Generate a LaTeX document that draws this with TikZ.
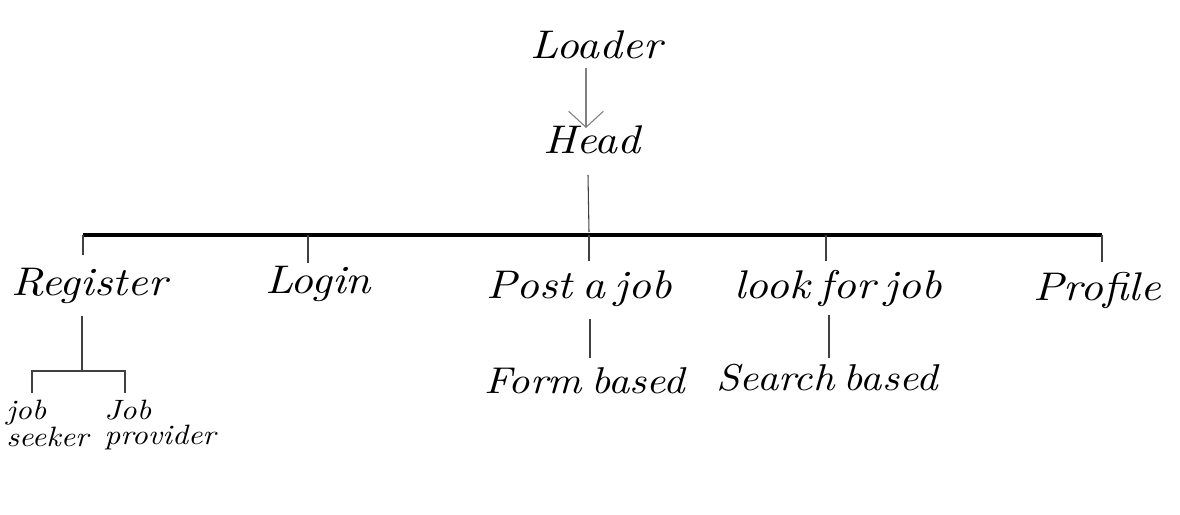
\documentclass[tikz,border=0pt]{standalone}
\usepackage{fontspec}
\newfontfamily\hand{lmroman10-italic.otf}[FakeStretch=1.12,WordSpace=0.6]
\usetikzlibrary{arrows.meta,calc}
\begin{document}
\begin{tikzpicture}[x=0.75pt,y=-0.75pt,
 lbl/.style={font=\hand\fontsize{30}{34}\selectfont, inner sep=0pt, anchor=base},
 sub/.style={font=\hand\fontsize{28}{32}\selectfont, inner sep=0pt, anchor=base},
 small/.style={font=\hand\fontsize{21}{18.5}\selectfont, inner sep=0pt, align=left, anchor=north west},
 thin/.style={draw=black!75, line width=0.8pt},
 bar/.style={line width=2.6pt, draw=black}]
\useasboundingbox (0,0) rectangle (1180,514);
\node[lbl] (loader) at (596,58) {Loader};
\node[lbl] (head) at (592,153) {Head};
\node[lbl] (reg) at (89,295) {Register};
\node[lbl] (login) at (318,293) {Login};
\node[lbl] (post) at (579,298) {Post a job};
\node[lbl] (look) at (838,298) {look for job};
\node[lbl] (prof) at (1097,300) {Profile};
\node[sub] (form) at (585,393) {Form based};
\node[sub] (search) at (827,390) {Search based};
\node[small] (seeker) at (6,400) {job\\seeker};
\node[small] (prov) at (104,400) {Job\\provider};
\coordinate (bl) at (83,235);
\coordinate (br) at (1102,235);
\draw[gray, line width=0.8pt, -{Straight Barb[length=12pt,width=26pt]}] ($(loader.base)+(-10,10)$) -- ($(head.base)+(-6,-25)$);
\draw[thin] ($(head.base)+(-4,22)$) -- ($(head.base)+(-3,79)$);
\draw[bar] (bl) -- (br);
\draw[thin] (bl) -- ($(reg.base)+(-6,-40)$);
\draw[thin] ($(login.base)+(-10,-58)$) -- ($(login.base)+(-10,-30)$);
\draw[thin] ($(post.base)+(10,-63)$) -- ($(post.base)+(10,-37)$);
\draw[thin] ($(look.base)+(-12,-63)$) -- ($(look.base)+(-12,-37)$);
\draw[thin] (br) -- ($(prof.base)+(5,-38)$);
\draw[thin] ($(post.base)+(11,21)$) -- ($(form.base)+(5,-35)$);
\draw[thin] ($(look.base)+(-9,17)$) -- ($(search.base)+(2,-32)$);
\coordinate (rs) at (82,371);
\draw[thin] ($(reg.base)+(-7,21)$) -- (rs);
\draw[thin] ($(seeker.north west)+(26,-7)$) |- ($(prov.north west)+(21,-29)$) -- ($(prov.north west)+(21,-7)$);
\end{tikzpicture}
\end{document}
